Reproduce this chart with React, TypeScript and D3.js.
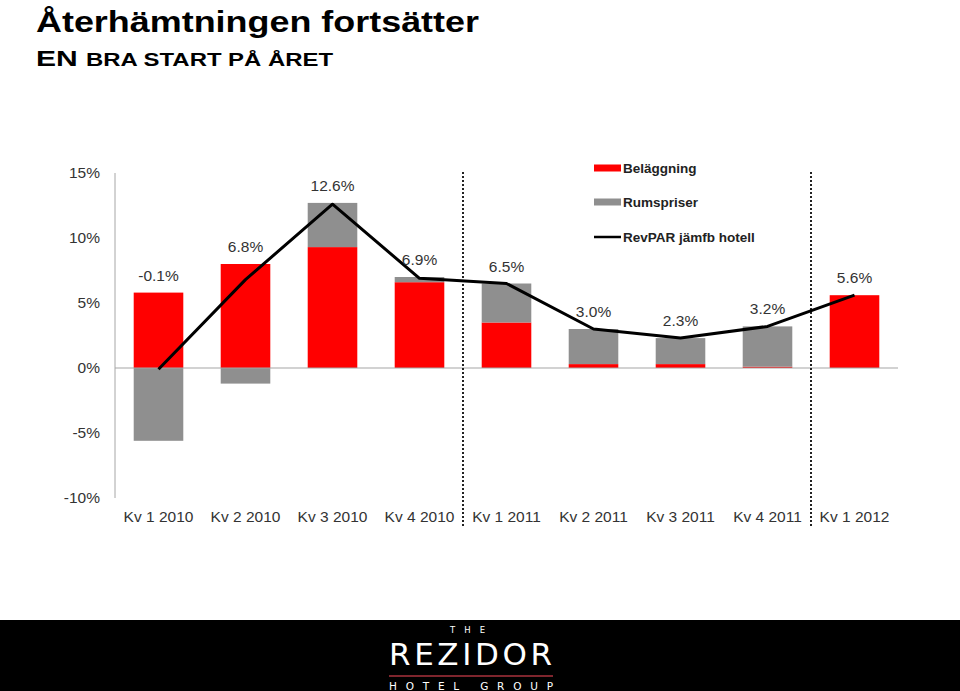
import React from "react";
import * as d3 from "d3";

const categories = ["Kv 1 2010", "Kv 2 2010", "Kv 3 2010", "Kv 4 2010", "Kv 1 2011", "Kv 2 2011", "Kv 3 2011", "Kv 4 2011", "Kv 1 2012"];
const belaggning = [5.8, 8.0, 9.3, 6.6, 3.5, 0.3, 0.3, 0.1, 5.6];
const rumspriser = [-5.6, -1.2, 3.4, 0.4, 3.0, 2.7, 2.0, 3.1, 0.0];
const revpar = [-0.1, 6.8, 12.6, 6.9, 6.5, 3.0, 2.3, 3.2, 5.6];
const yTicks = [15, 10, 5, 0, -5, -10];
const dividerAfter = [3, 7];
const legendItems = ["Beläggning", "Rumspriser", "RevPAR jämfb hotell"];

const W = 960;
const H = 691;
const FONT = "'Liberation Sans', Arial, sans-serif";
const RED = "#ff0000";
const GRAY = "#8f8f8f";

export default function App() {
  const left = 115;
  const right = 898;
  const y = d3.scaleLinear().domain([-10, 15]).range([498, 173]);
  const x = d3.scaleBand<string>().domain(categories).range([left, right]).paddingInner(0.43).paddingOuter(0.215);
  const step = x.step();
  const bw = x.bandwidth();

  const line = d3
    .line<number>()
    .x((_, i) => (x(categories[i]) as number) + bw / 2)
    .y((d) => y(d));

  const bars: React.ReactNode[] = [];
  categories.forEach((c, i) => {
    const bx = x(c) as number;
    const r = belaggning[i];
    const g = rumspriser[i];
    bars.push(<rect key={"r" + i} x={bx} width={bw} y={Math.min(y(0), y(r))} height={Math.abs(y(r) - y(0))} fill={RED} />);
    if (g >= 0) {
      bars.push(<rect key={"g" + i} x={bx} width={bw} y={y(r + g)} height={y(r) - y(r + g)} fill={GRAY} />);
    } else {
      bars.push(<rect key={"g" + i} x={bx} width={bw} y={y(0)} height={y(g) - y(0)} fill={GRAY} />);
    }
  });

  const labels = categories.map((c, i) => {
    const top = belaggning[i] + Math.max(rumspriser[i], 0);
    return (
      <text key={"l" + i} x={(x(c) as number) + bw / 2} y={y(top) - 12} textAnchor="middle" fontSize={15.5} fill="#333" fontFamily={FONT}>
        {revpar[i].toFixed(1) + "%"}
      </text>
    );
  });

  const legendX = 594;
  const legendY = [168, 202, 237];

  return (
    <svg width={W} height={H} style={{ position: "absolute", left: 0, top: 0, background: "#fff" }} fontFamily={FONT}>
      <rect x={0} y={0} width={W} height={H} fill="#fff" />
      <text x={36} y={32} fontSize={29} fontWeight="bold" fill="#000" textLength={443} lengthAdjust="spacingAndGlyphs">
        Återhämtningen fortsätter
      </text>
      <text x={36} y={66} fontWeight="bold" fill="#000" textLength={297} lengthAdjust="spacingAndGlyphs">
        <tspan fontSize={22}>EN </tspan>
        <tspan fontSize={17.5}>BRA START PÅ ÅRET</tspan>
      </text>

      <line x1={left} x2={left} y1={y(15)} y2={y(-10)} stroke="#a6a6a6" strokeWidth={1} />
      {yTicks.map((t) => (
        <text key={t} x={100} y={y(t) + 5} textAnchor="end" fontSize={15.5} fill="#333">
          {t + "%"}
        </text>
      ))}

      {bars}
      <line x1={left} x2={right} y1={y(0)} y2={y(0)} stroke="#a6a6a6" strokeWidth={1.2} />

      {dividerAfter.map((i) => {
        const xx = (x(categories[i]) as number) + bw + (step - bw) / 2;
        return <line key={"d" + i} x1={xx} x2={xx} y1={172} y2={528} stroke="#222" strokeWidth={2} strokeDasharray="2,2" />;
      })}

      <path d={line(revpar) || ""} fill="none" stroke="#000" strokeWidth={3} strokeLinejoin="round" />
      {labels}

      {categories.map((c) => (
        <text key={c} x={(x(c) as number) + bw / 2} y={522} textAnchor="middle" fontSize={15.5} fill="#333">
          {c}
        </text>
      ))}

      <rect x={legendX} y={legendY[0] - 3.5} width={27} height={7} fill={RED} />
      <rect x={legendX} y={legendY[1] - 3.5} width={27} height={7} fill={GRAY} />
      <line x1={legendX} x2={legendX + 27} y1={legendY[2]} y2={legendY[2]} stroke="#000" strokeWidth={2.5} />
      {legendItems.map((t, i) => (
        <text key={t} x={legendX + 29} y={legendY[i] + 5} fontSize={13.5} fontWeight="bold" fill="#222">
          {t}
        </text>
      ))}

      <rect x={0} y={620} width={W} height={71} fill="#000" />
      <text x={450} y={633} fontSize={8.5} fill="#fff" textLength={35} lengthAdjust="spacing" fontFamily="'DejaVu Sans', sans-serif">THE</text>
      <text x={389} y={665} fontSize={31} fill="#fff" textLength={163} lengthAdjust="spacing" fontFamily="'DejaVu Sans', sans-serif">REZIDOR</text>
      <line x1={389} x2={553} y1={676} y2={676} stroke="#a8323c" strokeWidth={1.5} />
      <text x={389} y={690} fontSize={10.5} fill="#fff" textLength={164} lengthAdjust="spacing" fontFamily="'DejaVu Sans', sans-serif">HOTEL GROUP</text>
    </svg>
  );
}
